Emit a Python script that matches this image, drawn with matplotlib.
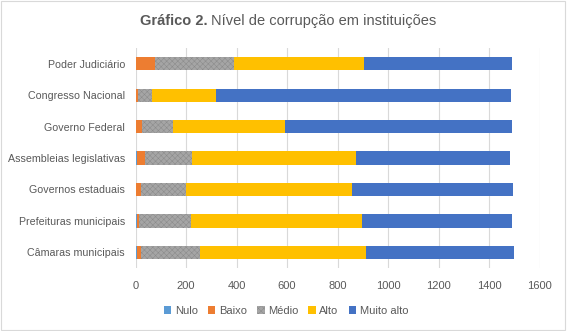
import matplotlib.pyplot as plt
import numpy as np
from matplotlib.patches import Rectangle

categories = [
    "Poder Judiciário",
    "Congresso Nacional",
    "Governo Federal",
    "Assembleias legislativas",
    "Governos estaduais",
    "Prefeituras municipais",
    "Câmaras municipais",
]
series_names = ["Nulo", "Baixo", "Médio", "Alto", "Muito alto"]

nulo = [2, 3, 2, 5, 2, 5, 6]
baixo = [77, 5, 23, 32, 19, 8, 15]
medio = [309, 57, 125, 185, 177, 206, 234]
alto = [516, 253, 441, 650, 659, 677, 657]
muito_alto = [586, 1168, 899, 610, 637, 594, 586]

xticks = [0, 200, 400, 600, 800, 1000, 1200, 1400, 1600]

colors = ["#5B9BD5", "#ED7D31", "#A5A5A5", "#FFC000", "#4472C4"]
text_color = "#595959"

plt.rcParams["font.family"] = ["Liberation Sans", "DejaVu Sans"]
plt.rcParams["hatch.linewidth"] = 0.35

fig = plt.figure(figsize=(5.67, 3.31), dpi=100)
ax = fig.add_axes([0.239, 0.19, 0.713, 0.665])

y = np.arange(len(categories))
left = np.zeros(len(categories))
for name, vals, c in zip(series_names, [nulo, baixo, medio, alto, muito_alto], colors):
    vals = np.array(vals, dtype=float)
    if name == "Médio":
        ax.barh(y, vals, left=left, height=0.42, color=c, edgecolor="#8A8A8A",
                hatch="xxxxxx", linewidth=0, label=name, zorder=3)
    else:
        ax.barh(y, vals, left=left, height=0.42, color=c, linewidth=0,
                label=name, zorder=3)
    left += vals

ax.set_yticks(y)
ax.set_yticklabels(categories)
ax.set_ylim(len(categories) - 0.5, -0.5)
ax.set_xlim(0, 1600)
ax.set_xticks(xticks)
ax.tick_params(axis="both", length=0, labelsize=8, colors=text_color)
ax.tick_params(axis="y", pad=7.5, labelsize=7.7)
ax.tick_params(axis="x", pad=9)
ax.grid(axis="x", color="#D9D9D9", linewidth=0.8, zorder=0)
for s in ax.spines.values():
    s.set_visible(False)

ax.legend(loc="upper center", bbox_to_anchor=(0.372, -0.125), ncol=5, frameon=False,
          fontsize=8, labelcolor=text_color, handlelength=0.7, handleheight=0.7,
          handletextpad=0.3, columnspacing=0.9)

fig.text(0.366, 0.937, "Gráfico 2.", ha="right", va="center", fontsize=10.5,
         fontweight="bold", color=text_color)
fig.text(0.373, 0.937, "Nível de corrupção em instituições", ha="left", va="center",
         fontsize=10.5, color=text_color)

fig.patches.append(Rectangle((0.002, 0.003), 0.995, 0.994, transform=fig.transFigure,
                             fill=False, edgecolor="#D9D9D9", linewidth=0.8))

fig.savefig("out.png", dpi=100)
